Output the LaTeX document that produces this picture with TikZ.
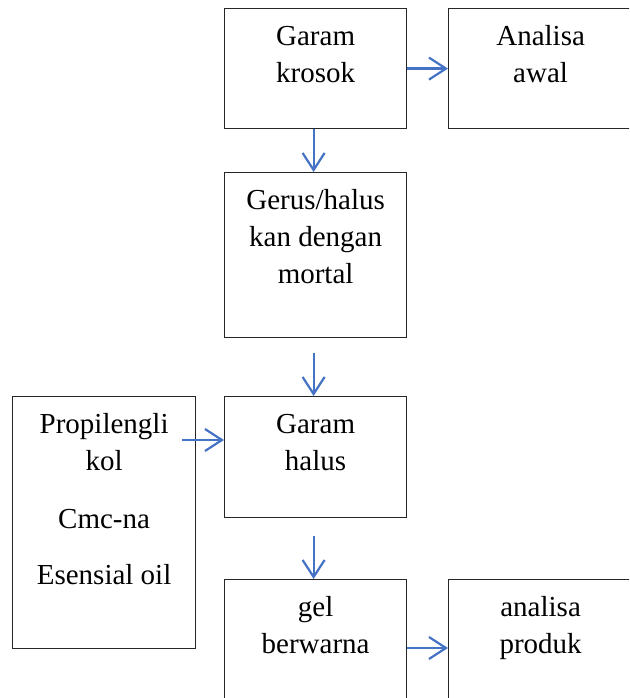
\documentclass[tikz,border=0pt]{standalone}
\usepackage{fontspec}
\setmainfont{Liberation Serif}
\usetikzlibrary{arrows.meta}
\definecolor{arrowblue}{HTML}{4472C4}
\newcommand{\bxt}[3]{\parbox[t][#2pt][t]{#1pt}{\centering\rule{0pt}{37pt}#3}}
\begin{document}
\begin{tikzpicture}[x=1pt,y=-1pt,
  boxnode/.style={draw=black!85, line width=1.2pt, inner sep=0pt, anchor=north west,
    font=\fontsize{29}{37}\selectfont},
  arr/.style={draw=arrowblue, line width=2.2pt,
    -{Straight Barb[length=17pt,width=22pt,line width=2.2pt]}}]
\useasboundingbox (0,0) rectangle (629,698);
\clip (0,0) rectangle (629,698);
\node[boxnode] (krosok) at (224,8) {\bxt{182}{120}{Garam\\krosok}};
\node[boxnode] (awal) at (448,8) {\bxt{184}{120}{Analisa\\awal}};
\node[boxnode] (gerus) at (224,172) {\bxt{182}{165}{Gerus/halus\\kan dengan\\mortal}};
\node[boxnode] (halus) at (224,396) {\bxt{182}{121}{Garam\\halus}};
\node[boxnode] (bahan) at (12,396) {\bxt{183}{252}{Propilengli\\kol\\[21pt]Cmc-na\\[19pt]Esensial oil}};
\node[boxnode] (gel) at (224,579) {\bxt{182}{121}{gel\\berwarna}};
\node[boxnode] (produk) at (448,579) {\bxt{184}{121}{analisa\\produk}};
\coordinate (bs) at (182,440);
\coordinate (gs) at (407,648);
\draw[arr] (krosok.east) -- (awal.west);
\draw[arr] ([xshift=-2pt]krosok.south) -- ([xshift=-2pt]gerus.north);
\draw[arr] ([xshift=-2pt,yshift=-15pt]gerus.south) -- ([xshift=-2pt]halus.north);
\draw[arr] ([xshift=-2pt,yshift=-18pt]halus.south) -- ([xshift=-2pt]gel.north);
\draw[arr] (bs) -- (bs -| halus.west);
\draw[arr] (gs) -- (gs -| produk.west);
\end{tikzpicture}
\end{document}
